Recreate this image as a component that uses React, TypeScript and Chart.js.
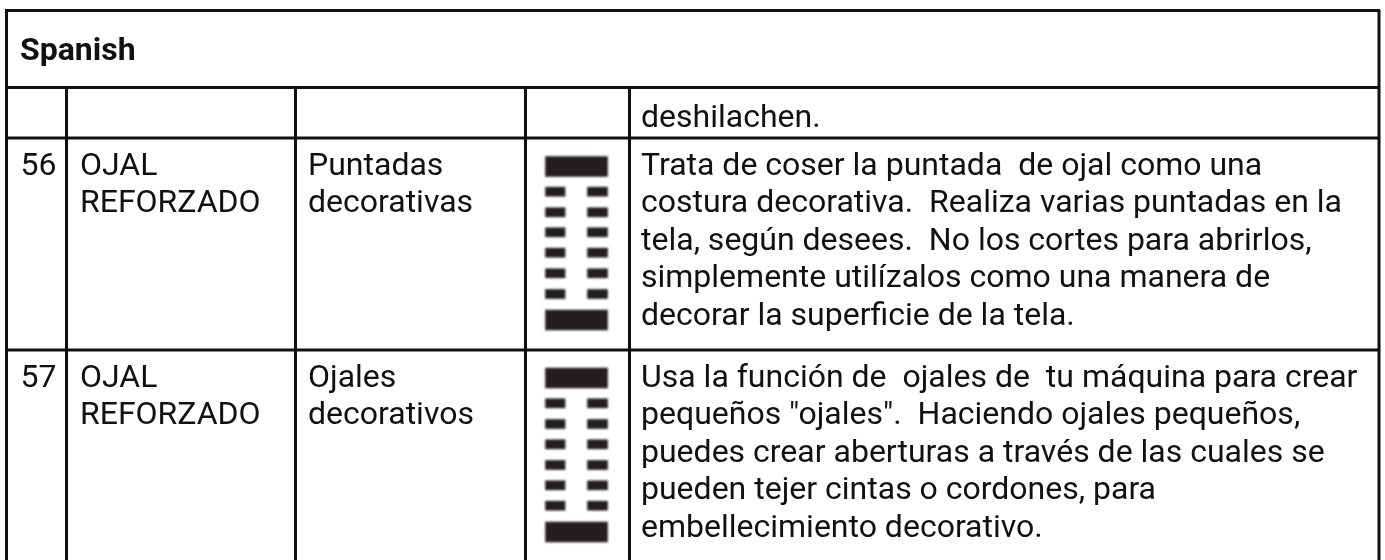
import React, { useEffect, useRef } from "react";
import { Chart, registerables } from "chart.js";

Chart.register(...registerables);

const textColor = "#111111";
const ruleColor = "#111111";
const markColor = "#231f20";

// [text, x, baseline]
const headerCell: [string, number, number] = ["Spanish", 20, 60];
const numberCells: [string, number, number][] = [["56", 20.5, 175], ["57", 20.5, 387]];
const nameCells: [string, number, number][] = [
  ["OJAL", 80, 175], ["REFORZADO", 80, 212],
  ["OJAL", 80, 387], ["REFORZADO", 80, 424],
];
const categoryCells: [string, number, number][] = [
  ["Puntadas", 308, 175], ["decorativas", 308, 212],
  ["Ojales", 308, 387], ["decorativos", 308, 424],
];
const descriptionCells: [string, number, number][] = [
  ["deshilachen.", 641, 127],
  ["Trata de coser la puntada  de ojal como una", 641, 175],
  ["costura decorativa.  Realiza varias puntadas en la", 641, 212],
  ["tela, según desees.  No los cortes para abrirlos,", 641, 250],
  ["simplemente utilízalos como una manera de", 641, 287],
  ["decorar la superficie de la tela.", 641, 325],
  ["Usa la función de  ojales de  tu máquina para crear", 641, 387],
  ["pequeños \"ojales\".  Haciendo ojales pequeños,", 641, 424],
  ["puedes crear aberturas a través de las cuales se", 641, 462],
  ["pueden tejer cintas o cordones, para", 641, 499],
  ["embellecimiento decorativo.", 641, 537],
];

const horizontalRules: [number, number, number][] = [
  [10.5, 5, 1380], [87.5, 5, 1380], [138, 5, 1380], [350, 5, 1380],
];
const verticalRules: [number, number, number][] = [
  [6.5, 10, 560], [1379, 10, 560], [66.5, 87, 560], [295.5, 87, 560], [525.5, 87, 560], [629.5, 87, 560],
];

const wideBarCenters = [166.5, 320, 378, 532];
const wideBarRange: [number, number] = [545.5, 607.5];
const smallBarCenters = [191.7, 212.3, 232.3, 252.7, 273.3, 294, 403.3, 424, 444.3, 465, 485.3, 505.7];
const leftBarRange: [number, number] = [545.5, 565];
const rightBarRange: [number, number] = [587.5, 607.5];

const tablePlugin = {
  id: "tableText",
  beforeDatasetsDraw(chart: any) {
    chart.ctx.save();
    chart.ctx.fillStyle = "#ffffff";
    chart.ctx.fillRect(0, 0, chart.width, chart.height);
    chart.ctx.restore();
  },
  beforeDatasetDraw(chart: any, args: any) {
    if (args.meta.type === "bar") {
      chart.ctx.save();
      chart.ctx.filter = "blur(1px)";
    }
  },
  afterDatasetDraw(chart: any, args: any) {
    if (args.meta.type === "bar") chart.ctx.restore();
  },
  afterDatasetsDraw(chart: any) {
    const { ctx, scales } = chart;
    const draw = (cells: [string, number, number][], font: string) => {
      ctx.save();
      ctx.font = font;
      ctx.fillStyle = textColor;
      ctx.textBaseline = "alphabetic";
      ctx.textAlign = "left";
      cells.forEach(([t, x, y]) => ctx.fillText(t, scales.x.getPixelForValue(x), scales.y.getPixelForValue(y)));
      ctx.restore();
    };
    const body = "400 32px Roboto";
    draw([headerCell], "700 32px Roboto");
    draw(numberCells, body);
    draw(nameCells, body);
    draw(categoryCells, body);
    draw(descriptionCells, body);
  },
};

export default function App() {
  const ref = useRef<HTMLCanvasElement>(null);
  useEffect(() => {
    document.body.style.margin = "0";
    const rules = [
      ...horizontalRules.map(([y, a, b]) => [{ x: a, y }, { x: b, y }]),
      ...verticalRules.map(([x, a, b]) => [{ x, y: a }, { x, y: b }]),
    ];
    const chart = new Chart(ref.current!, {
      type: "bar",
      data: {
        datasets: [
          ...rules.map((data) => ({
            type: "line" as const,
            data,
            borderColor: ruleColor,
            borderWidth: 3,
            pointRadius: 0,
            clip: false,
          })),
          {
            indexAxis: "y",
            grouped: false,
            barThickness: 20,
            backgroundColor: markColor,
            data: wideBarCenters.map((y) => ({ x: wideBarRange, y })),
          },
          {
            indexAxis: "y",
            grouped: false,
            barThickness: 9,
            backgroundColor: markColor,
            data: smallBarCenters.flatMap((y) => [{ x: leftBarRange, y }, { x: rightBarRange, y }]),
          },
        ] as any,
      },
      options: {
        animation: false,
        responsive: false,
        layout: { padding: 0 },
        plugins: { legend: { display: false }, tooltip: { enabled: false } },
        scales: {
          x: { type: "linear", min: 0, max: 1385, display: false, offset: false },
          y: { type: "linear", min: 0, max: 560, reverse: true, display: false, offset: false },
        },
      },
      plugins: [tablePlugin],
    } as any);
    return () => chart.destroy();
  }, []);
  return <canvas ref={ref} width={1385} height={560} style={{ display: "block" }} />;
}
